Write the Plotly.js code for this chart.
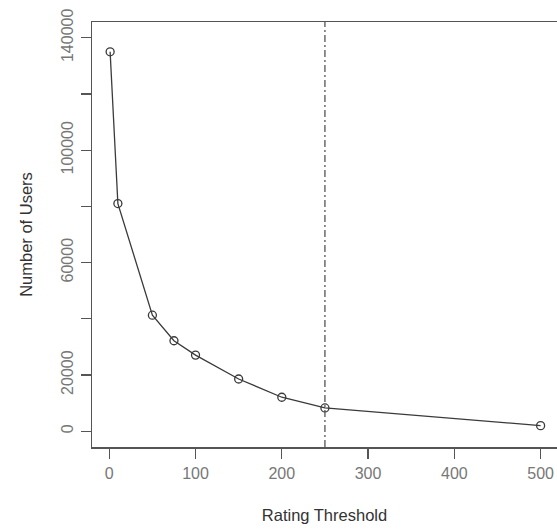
<!DOCTYPE html>
<html>
<head>
<meta charset="utf-8">
<script src="https://cdn.plot.ly/plotly-3.0.1.min.js"></script>
<style>html,body{margin:0;padding:0;background:#fff;}#chart{width:557px;height:529px;}</style>
</head>
<body>
<div id="chart"></div>
<script>
var thresholds = [1, 10, 50, 75, 100, 150, 200, 250, 500];
var users = [135000, 81000, 41300, 32200, 27100, 18600, 12100, 8300, 2000];
var cutoff = 250;
var xTickVals = [0, 100, 200, 300, 400, 500];
var yTickVals = [0, 20000, 40000, 60000, 80000, 100000, 120000, 140000];
var yTickText = ["0", "20000", "", "60000", "", "100000", "", "140000"];

var trace = {
  x: thresholds,
  y: users,
  type: 'scatter',
  mode: 'lines+markers',
  line: {color: '#3a3a3a', width: 1.3},
  marker: {symbol: 'circle-open', size: 8, color: '#3a3a3a', line: {width: 1.3, color: '#3a3a3a'}},
  cliponaxis: false,
  showlegend: false
};

var fontFam = '"Liberation Sans", Arial, sans-serif';
var layout = {
  width: 557, height: 529,
  margin: {l: 92, r: 0, t: 22, b: 82},
  paper_bgcolor: '#fff', plot_bgcolor: '#fff',
  font: {family: fontFam, size: 16, color: '#777'},
  xaxis: {
    range: [-20, 519],
    tickvals: xTickVals,
    ticks: 'outside', ticklen: 10, tickwidth: 1.3, tickcolor: '#555',
    showline: true, linecolor: '#555', linewidth: 1.5, mirror: true,
    showgrid: false, zeroline: false,
    tickfont: {family: fontFam, size: 16, color: '#777'},
    ticklabelstandoff: 1,
    title: {text: 'Rating Threshold', font: {family: fontFam, size: 16.5, color: '#333'}, standoff: 28}
  },
  yaxis: {
    range: [-5600, 145600],
    tickvals: yTickVals,
    ticktext: yTickText,
    tickangle: -90,
    ticks: 'outside', ticklen: 10, tickwidth: 1.3, tickcolor: '#555',
    showline: true, linecolor: '#555', linewidth: 1.5,
    showgrid: false, zeroline: false,
    tickfont: {family: fontFam, size: 16, color: '#777'},
    ticklabelstandoff: 1,
    title: {text: 'Number of Users', font: {family: fontFam, size: 16.5, color: '#333'}, standoff: 22}
  },
  shapes: [{
    type: 'line', xref: 'x', yref: 'paper',
    x0: cutoff, x1: cutoff, y0: 0, y1: 1,
    line: {color: '#555', width: 1.3, dash: '7px,3px,2px,3px'}
  }]
};

Plotly.newPlot('chart', [trace], layout, {staticPlot: true, displayModeBar: false});
</script>
</body>
</html>
